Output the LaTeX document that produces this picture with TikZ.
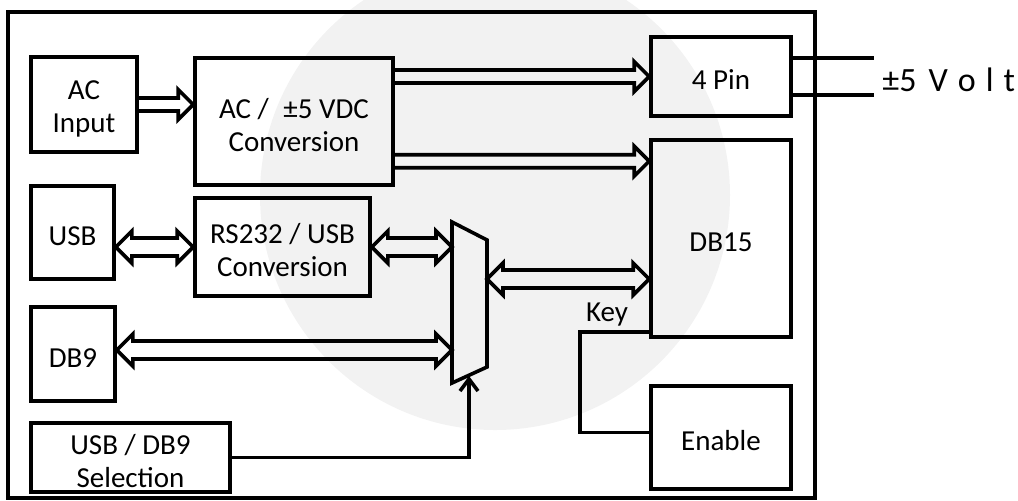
\documentclass[tikz,border=0pt]{standalone}
\usepackage{fontspec}
\setmainfont{Carlito}
\usetikzlibrary{arrows.meta,calc}
\tikzset{
blk/.style={rectangle,draw=black,line width=1.8pt,align=center,inner sep=0pt,font=\fontsize{14.5}{16.5}\selectfont,execute at begin node=\rule{0pt}{13.3pt}},
twoline/.style={blk,text height=30pt},
wire/.style={line width=1.8pt},
bus/.style={wire,to path={let \p1=(\tikztostart),\p2=(\tikztotarget) in
(\x1,\y1+3.25pt) -- (\x2-7.5pt,\y1+3.25pt) -- (\x2-7.5pt,\y1+7.5pt) -- (\x2,\y1) -- (\x2-7.5pt,\y1-7.5pt) -- (\x2-7.5pt,\y1-3.25pt) -- (\x1,\y1-3.25pt)}},
dbus/.style={wire,to path={let \p1=(\tikztostart),\p2=(\tikztotarget) in
(\x1+8pt,\y1+4.5pt) -- (\x2-8pt,\y1+4.5pt) -- (\x2-8pt,\y1+8pt) -- (\x2,\y1) -- (\x2-8pt,\y1-8pt) -- (\x2-8pt,\y1-4.5pt) -- (\x1+8pt,\y1-4.5pt) -- (\x1+8pt,\y1-8pt) -- (\x1,\y1) -- (\x1+8pt,\y1+8pt) -- cycle}}
}
\begin{document}
\begin{tikzpicture}[x=0.5pt,y=-0.5pt]
\useasboundingbox (0,0) rectangle (1018,500);
\fill[black!5] (495,195) circle (235);
\path (411.5,255) node(board)[blk,minimum width=403.5pt,minimum height=243pt]{}
(84,104.5) node(acin)[twoline,minimum width=53pt,minimum height=47.5pt]{AC\\Input}
(294,121.5) node(acdc)[twoline,minimum width=99pt,minimum height=63.5pt]{AC /\enspace ±5 VDC\\Conversion}
(72.5,232.5) node(usb)[blk,minimum width=41.5pt,minimum height=46.5pt]{USB}
(282.5,247) node(rs)[twoline,minimum width=87.5pt,minimum height=49pt]{RS232 / USB\\Conversion}
(73,354) node(db9)[blk,minimum width=42pt,minimum height=47pt]{DB9}
(130.5,457.5) node(sel)[twoline,minimum width=99.5pt,minimum height=34.5pt]{USB / DB9\\Selection}
(721,76.5) node(pin)[blk,minimum width=70pt,minimum height=39.5pt]{4 Pin}
(721,238.5) node(db15)[blk,minimum width=70pt,minimum height=98.5pt]{DB15}
(721,437.5) node(enable)[blk,minimum width=70pt,minimum height=51.5pt]{Enable}
(874,80) node(volt)[anchor=west,inner sep=4pt,font=\fontsize{17}{20}\selectfont]{±5\hspace{6pt}V\hspace{5pt}o\hspace{5pt}l\hspace{5pt}t};
%mux
\draw[wire] (452,222) -- (487,240) -- (487,367) -- (452,383) -- cycle;
\coordinate (muxa) at (452,248);
\coordinate (muxb) at (452,350);
\coordinate (muxo) at (487,279);
\coordinate (muxs) at (469,376);
\coordinate (db15in) at ([yshift=-11.5pt]db15.north west);
\draw[bus](acin.east) to (acin.east -| acdc.west);
\draw[bus](acdc.east |- pin.west) to (pin.west);
\draw[bus](acdc.east |- db15in) to (db15in);
\draw[dbus](usb.east |- rs.west) to (rs.west);
\draw[dbus](rs.east) to (muxa);
\draw[dbus](db9.east |- muxb) to (muxb);
\draw[dbus](muxo) to (muxo -| db15.west);
\draw[wire,-{Straight Barb[length=6pt,width=9pt]}](sel.east) -| (muxs);
\draw[wire]([yshift=3.5pt]db15.south west) -- ++(-69,0) node[above right,inner sep=2pt,font=\fontsize{14.5}{17}\selectfont]{Key} |- ([yshift=2.5pt]enable.west);
\draw[wire]([yshift=9.25pt]pin.east) -- ([yshift=9.25pt]pin.east -| volt.west);
\draw[wire]([yshift=-9.25pt]pin.east) -- ([yshift=-9.25pt]pin.east -| volt.west);
\end{tikzpicture}
\end{document}
